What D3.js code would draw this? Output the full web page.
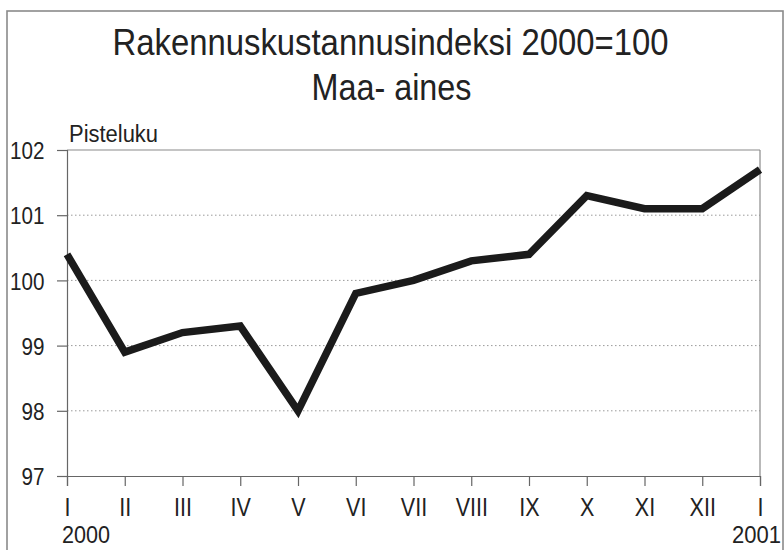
<!DOCTYPE html>
<html><head><meta charset="utf-8">
<script src="https://cdn.jsdelivr.net/npm/d3@7"></script>
<style>
html,body{margin:0;padding:0;background:#fff;}
svg{display:block;font-family:"Liberation Sans",Arial,Helvetica,sans-serif;}
</style></head>
<body>
<script>
const months = ["I","II","III","IV","V","VI","VII","VIII","IX","X","XI","XII","I"];
const values = [100.4, 98.9, 99.2, 99.3, 98.0, 99.8, 100.0, 100.3, 100.4, 101.3, 101.1, 101.1, 101.7];
const yTicks = [97, 98, 99, 100, 101, 102];
const yearLabels = ["2000", "2001"];
const titleLines = ["Rakennuskustannusindeksi 2000=100", "Maa- aines"];
const yAxisTitle = "Pisteluku";

const W = 784, H = 550;
const svg = d3.select("body").append("svg").attr("width", W).attr("height", H);

// outer frame
svg.append("rect").attr("x", 7).attr("y", 11).attr("width", 776).attr("height", 600)
  .attr("fill", "none").attr("stroke", "#8a8a8a").attr("stroke-width", 1.6);

const m = {left: 67, right: 760, top: 150, bottom: 476};
const x = d3.scaleLinear().domain([0, months.length - 1]).range([m.left, m.right]);
const y = d3.scaleLinear().domain([97, 102]).range([m.bottom, m.top]);

// title
svg.append("text").attr("x", 112.5).attr("y", 55).attr("font-size", 37)
  .attr("textLength", 556).attr("lengthAdjust", "spacingAndGlyphs")
  .attr("fill", "#222").text(titleLines[0]);
svg.append("text").attr("x", 311.5).attr("y", 100).attr("font-size", 37)
  .attr("textLength", 160).attr("lengthAdjust", "spacingAndGlyphs")
  .attr("fill", "#222").text(titleLines[1]);

svg.append("text").attr("x", 69).attr("y", 142).attr("font-size", 23)
  .attr("textLength", 89).attr("lengthAdjust", "spacingAndGlyphs")
  .attr("fill", "#222").text(yAxisTitle);

// gridlines (dotted)
svg.append("g").selectAll("line").data(yTicks.filter(d => d > 97 && d < 102)).join("line")
  .attr("x1", m.left).attr("x2", m.right)
  .attr("y1", d => y(d)).attr("y2", d => y(d))
  .attr("stroke", "#9a9a9a").attr("stroke-width", 1).attr("stroke-dasharray", "1.5,2.5");

// plot border top/right
svg.append("line").attr("x1", m.left).attr("x2", m.right).attr("y1", m.top).attr("y2", m.top)
  .attr("stroke", "#8a8a8a").attr("stroke-width", 1.2);
svg.append("line").attr("x1", m.right).attr("x2", m.right).attr("y1", m.top).attr("y2", m.bottom)
  .attr("stroke", "#8a8a8a").attr("stroke-width", 1.2);

const sx = 0.86;

// y axis
const yAxis = d3.axisLeft(y).tickValues(yTicks).tickSize(10).tickPadding(12).tickFormat(d3.format("d"));
const gy = svg.append("g").attr("transform", `translate(${m.left},0)`).call(yAxis);
gy.select(".domain").attr("stroke", "#666").attr("stroke-width", 1.2);
gy.selectAll(".tick line").attr("stroke", "#666").attr("stroke-width", 1.2);
gy.selectAll(".tick text").attr("font-size", 24).attr("font-family", "Liberation Sans, Arial, sans-serif")
  .attr("fill", "#222").attr("dy", "0.36em")
  .attr("x", -22.5 / sx).attr("transform", `scale(${sx},1)`);

// x axis
const xAxis = d3.axisBottom(x).tickValues(d3.range(months.length)).tickSize(10).tickPadding(12)
  .tickFormat(i => months[i]);
const gx = svg.append("g").attr("transform", `translate(0,${m.bottom})`).call(xAxis);
gx.select(".domain").attr("stroke", "#666").attr("stroke-width", 1.2);
gx.selectAll(".tick line").attr("stroke", "#666").attr("stroke-width", 1.2);
gx.selectAll(".tick text").attr("font-size", 25).attr("font-family", "Liberation Sans, Arial, sans-serif")
  .attr("fill", "#222").attr("dy", null).attr("y", 40)
  .attr("transform", `scale(${sx},1)`);

// year labels
svg.append("text").attr("x", 62).attr("y", 543).attr("font-size", 24)
  .attr("textLength", 48).attr("lengthAdjust", "spacingAndGlyphs")
  .attr("fill", "#222").text(yearLabels[0]);
svg.append("text").attr("x", 732).attr("y", 543).attr("font-size", 24)
  .attr("textLength", 49).attr("lengthAdjust", "spacingAndGlyphs")
  .attr("fill", "#222").text(yearLabels[1]);

// data line
const line = d3.line().x((d, i) => x(i)).y(d => y(d));
svg.append("path").datum(values).attr("d", line)
  .attr("fill", "none").attr("stroke", "#1b1b1b").attr("stroke-width", 7.5)
  .attr("stroke-linejoin", "miter").attr("stroke-linecap", "butt");
</script>
</body></html>
